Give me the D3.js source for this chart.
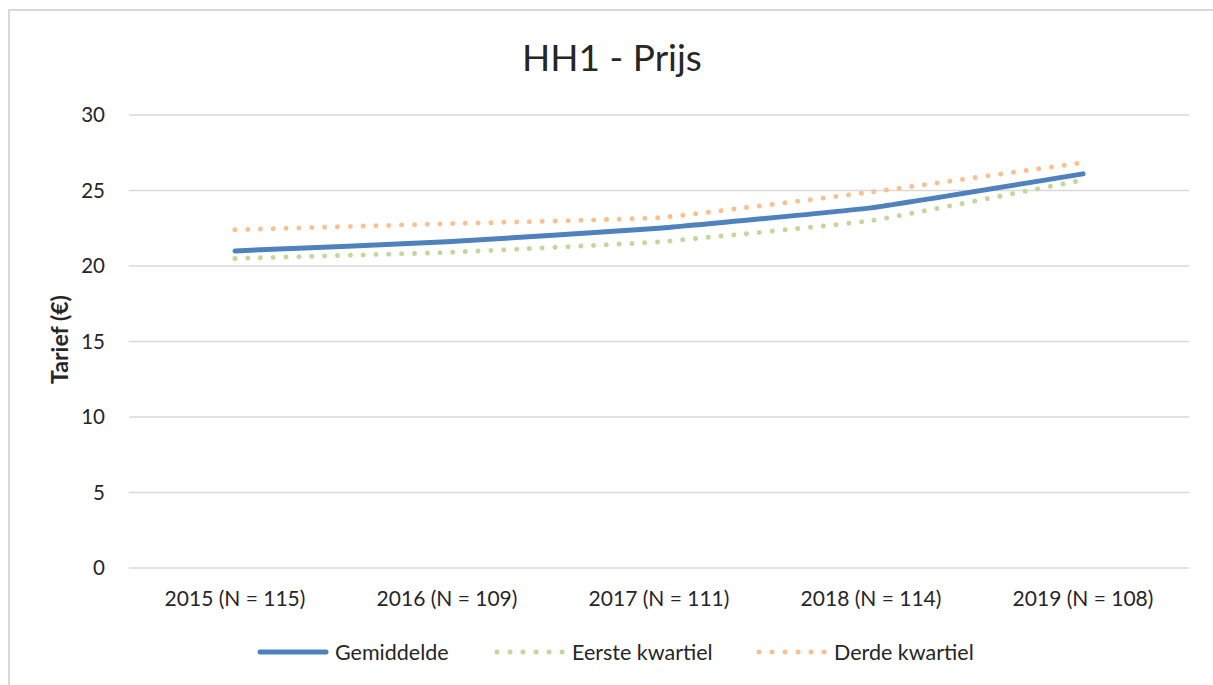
<!DOCTYPE html>
<html>
<head>
<meta charset="utf-8">
<script src="https://cdn.jsdelivr.net/npm/d3@7"></script>
<style>
  body { margin: 0; background: #fff; }
  text { font-family: "Lato", "Open Sans", sans-serif; fill: #262626; }
</style>
</head>
<body>
<div id="chart"></div>
<script>
// chart data
var categories = ["2015 (N = 115)", "2016 (N = 109)", "2017 (N = 111)", "2018 (N = 114)", "2019 (N = 108)"];
var gemiddelde = [21.0, 21.6, 22.5, 23.85, 26.1];
var eersteKwartiel = [20.5, 20.9, 21.6, 23.0, 25.7];
var derdeKwartiel = [22.4, 22.8, 23.2, 24.9, 26.85];
var yTicks = [0, 5, 10, 15, 20, 25, 30];

var series = [
    { name: "Gemiddelde", values: gemiddelde, color: "#4f81bd", dash: null },
    { name: "Eerste kwartiel", values: eersteKwartiel, color: "#c3d69b", dash: "0.01 12.8" },
    { name: "Derde kwartiel", values: derdeKwartiel, color: "#fcbf8f", dash: "0.01 12.8" }
];

var width = 1213, height = 685;
var margin = { top: 115, right: 24, bottom: 117, left: 129 },
    plotW = 1189 - margin.left,
    plotH = 568 - margin.top;

var svg = d3.select("#chart").append("svg")
    .attr("width", width)
    .attr("height", height);

// outer chart border (cropped on right/bottom)
svg.append("path")
    .attr("d", "M9,690 L9,10 L1220,10")
    .attr("fill", "none")
    .attr("stroke", "#d9d9d9")
    .attr("stroke-width", 2);

var g = svg.append("g")
    .attr("transform", "translate(" + margin.left + "," + margin.top + ")");

var x = d3.scaleBand().domain(categories).range([0, plotW]);
var y = d3.scaleLinear().domain([0, 30]).range([plotH, 0]);

// gridlines
g.append("g")
    .selectAll("line")
    .data(yTicks)
    .enter().append("line")
    .attr("x1", 0)
    .attr("x2", plotW)
    .attr("y1", function (d) { return y(d); })
    .attr("y2", function (d) { return y(d); })
    .attr("stroke", "#d9d9d9")
    .attr("stroke-width", 1.5);

// y axis labels
var yAxis = d3.axisLeft(y).tickValues(yTicks).tickSize(0).tickPadding(24);
var yg = g.append("g").call(yAxis);
yg.select(".domain").remove();
yg.selectAll("text").style("font-size", "20.5px").attr("fill", "#262626");

// x axis labels
var xAxis = d3.axisBottom(x).tickSize(0).tickPadding(23);
var xg = g.append("g").attr("transform", "translate(0," + plotH + ")").call(xAxis);
xg.select(".domain").remove();
xg.selectAll("text").style("font-size", "21px").attr("fill", "#262626");

// lines (slightly smoothed, sharper bend like the original)
var line = d3.line()
    .x(function (d, i) { return x(categories[i]) + x.bandwidth() / 2; })
    .y(function (d) { return y(d); })
    .curve(d3.curveCardinal.tension(0.7));

// draw dotted series first, mean on top
[series[1], series[2], series[0]].forEach(function (s) {
    g.append("path")
        .datum(s.values)
        .attr("d", line)
        .attr("fill", "none")
        .attr("stroke", s.color)
        .attr("stroke-width", 5)
        .attr("stroke-linecap", "round")
        .attr("stroke-dasharray", s.dash);
});

// title
svg.append("text")
    .attr("x", 612)
    .attr("y", 71)
    .attr("text-anchor", "middle")
    .style("font-size", "37px")
    .attr("fill", "#111")
    .text("HH1 - Prijs");

// y axis title
svg.append("text")
    .attr("transform", "translate(68," + (margin.top + plotH / 2 - 2) + ") rotate(-90)")
    .attr("text-anchor", "middle")
    .style("font-size", "23px")
    .style("font-weight", "bold")
    .attr("fill", "#111")
    .text("Tarief (\u20ac)");

// legend
var legendX = [258, 495, 757];
var legend = svg.append("g").selectAll("g")
    .data(series)
    .enter().append("g")
    .attr("transform", function (d, i) { return "translate(" + legendX[i] + ",652)"; });

legend.append("line")
    .attr("x1", 2).attr("x2", 68)
    .attr("stroke", function (d) { return d.color; })
    .attr("stroke-width", 5)
    .attr("stroke-linecap", "round")
    .attr("stroke-dasharray", function (d) { return d.dash ? "0.01 13" : null; });

legend.append("text")
    .attr("x", 77)
    .attr("y", 8)
    .style("font-size", "21.5px")
    .text(function (d) { return d.name; });
</script>
</body>
</html>
